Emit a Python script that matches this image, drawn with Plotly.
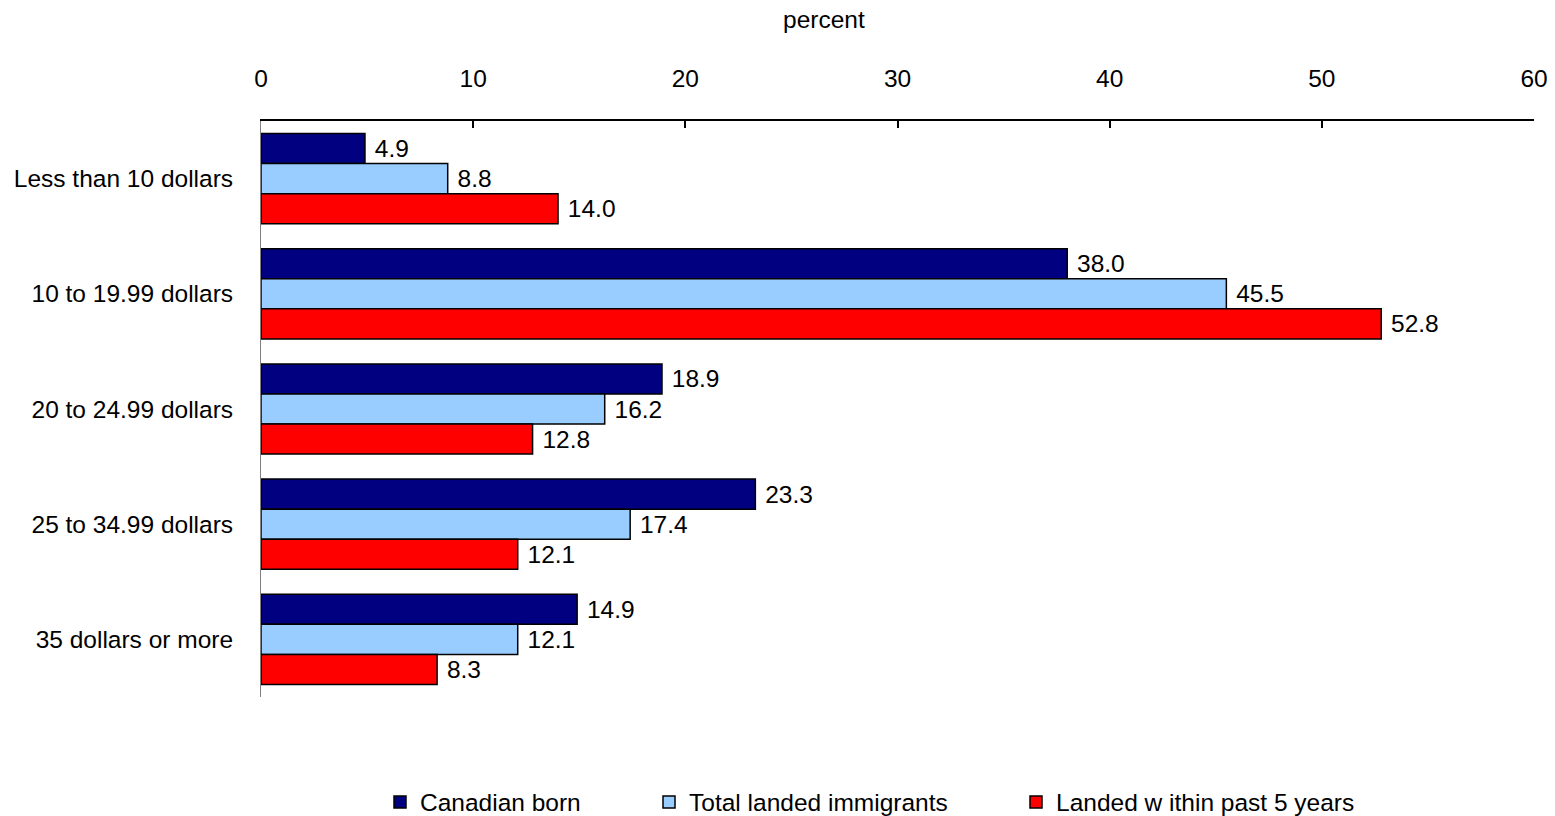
import plotly.graph_objects as go

categories = ["Less than 10 dollars", "10 to 19.99 dollars", "20 to 24.99 dollars",
              "25 to 34.99 dollars", "35 dollars or more"]
canadian_born = [4.9, 38.0, 18.9, 23.3, 14.9]
total_immigrants = [8.8, 45.5, 16.2, 17.4, 12.1]
recent_immigrants = [14.0, 52.8, 12.8, 12.1, 8.3]
series_names = ["Canadian born", "Total landed immigrants", "Landed w ithin past 5 years"]
x_ticks = [0, 10, 20, 30, 40, 50, 60]

FONT = "Liberation Sans, Arial, sans-serif"
FS = 24.5

colors = ["#000080", "#99CCFF", "#FF0000"]
series = [canadian_born, total_immigrants, recent_immigrants]
legends = ["legend", "legend2", "legend3"]

fig = go.Figure()
for name, vals, col, lg in zip(series_names, series, colors, legends):
    fig.add_trace(go.Bar(
        y=categories, x=vals, orientation="h", name=name,
        marker=dict(color=col, line=dict(color="black", width=1.5)),
        text=["\u00a0" + f"{v:.1f}" for v in vals], textposition="outside",
        textfont=dict(family=FONT, size=FS, color="black"),
        cliponaxis=False, legend=lg,
    ))

W, H = 1555, 816
L, R, T, B = 261, 21, 121, 119
PW, PH = W - L - R, H - T - B


def legend_at(px_left):
    return dict(
        x=(px_left - L) / PW, xanchor="left", xref="paper",
        y=14 / H, yanchor="middle", yref="container",
        orientation="h", bgcolor="rgba(0,0,0,0)",
        font=dict(family=FONT, size=FS, color="black"),
        itemwidth=30,
    )


fig.update_layout(
    width=W, height=H,
    margin=dict(l=L, r=R, t=T, b=B, autoexpand=False),
    paper_bgcolor="white", plot_bgcolor="white",
    barmode="group", bargap=0.217, bargroupgap=0,
    font=dict(family=FONT, size=FS, color="black"),
    showlegend=True,
    legend=legend_at(380),
    legend2=legend_at(649),
    legend3=legend_at(1016),
    xaxis=dict(
        side="top", range=[0, 60], tickvals=x_ticks, automargin=False,
        ticks="inside", ticklen=7, tickwidth=1.5, tickcolor="black",
        showline=True, linecolor="black", linewidth=1.5,
        showgrid=False, zeroline=False,
        tickfont=dict(family=FONT, size=FS, color="black"),
        ticklabelstandoff=22,
    ),
    yaxis=dict(
        autorange="reversed", showline=True, linecolor="#808080", linewidth=1,
        ticks="", showgrid=False, zeroline=False, automargin=False,
        tickfont=dict(family=FONT, size=FS, color="black"),
        ticklabelstandoff=22,
    ),
    annotations=[dict(
        text="percent", xref="paper", yref="paper",
        x=(824 - L) / PW, y=(H - B - 20) / PH,
        xanchor="center", yanchor="middle", showarrow=False,
        font=dict(family=FONT, size=FS, color="black"),
    )],
)

fig.write_html("out.html")
